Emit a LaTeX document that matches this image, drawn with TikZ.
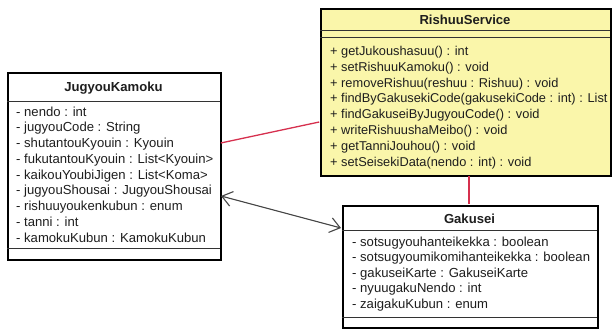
\documentclass[tikz,border=0pt]{standalone}
\usepackage{fontspec}
\setmainfont{Liberation Sans}
\usetikzlibrary{arrows.meta}
\definecolor{umlyellow}{RGB}{250,246,170}
\definecolor{assocred}{RGB}{214,48,78}
\definecolor{arrowgray}{RGB}{70,70,70}
\definecolor{txt}{RGB}{30,30,30}
\begin{document}
\begin{tikzpicture}[x=1pt,y=-1pt,
  classbox/.style={draw=black, line width=1.6pt, inner sep=0pt, anchor=north west},
  sepline/.style={draw=black!80, line width=1pt},
  titletext/.style={font=\fontsize{13.1}{15.8}\selectfont\bfseries, text=txt, inner sep=0pt},
  membertext/.style={font=\fontsize{13.1}{15.8}\selectfont, text=txt, inner sep=0pt, align=left, anchor=west},
  assoc/.style={draw=assocred, line width=1.3pt},
  navarrow/.style={draw=arrowgray, line width=1.1pt, {Straight Barb[length=10pt,width=15pt]}-{Straight Barb[length=10pt,width=15pt]}}]
\useasboundingbox (0,0) rectangle (612,329);

% JugyouKamoku
\node[classbox, fill=white, minimum width=213pt, minimum height=187pt] (jk) at (7,72) {};
\node[titletext] (jkt) at (113.5,88) {JugyouKamoku};
\draw[sepline] (7,101) -- (220,101);
\draw[sepline] (7,248) -- (220,248);
\node[membertext, font=\fontsize{13.1}{15.75}\selectfont] (jka) at (16,174.5) {- nendo : int\\- jugyouCode : String\\- shutantouKyouin : Kyouin\\- fukutantouKyouin : List<Kyouin>\\- kaikouYoubiJigen : List<Koma>\\- jugyouShousai : JugyouShousai\\- rishuuyoukenkubun : enum\\- tanni : int\\- kamokuKubun : KamokuKubun};

% RishuuService
\node[classbox, fill=umlyellow, minimum width=290pt, minimum height=167pt] (rs) at (320,8) {};
\node[titletext] (rst) at (465,20) {RishuuService};
\draw[sepline] (320,31) -- (610,31);
\draw[sepline] (320,38) -- (610,38);
\node[membertext, font=\fontsize{12.8}{15.86}\selectfont] (rsm) at (330,107.5) {+ getJukoushasuu() : int\\+ setRishuuKamoku() : void\\+ removeRishuu(reshuu : Rishuu) : void\\+ findByGakusekiCode(gakusekiCode : int) : List\\+ findGakuseiByJugyouCode() : void\\+ writeRishuushaMeibo() : void\\+ getTanniJouhou() : void\\+ setSeisekiData(nendo : int) : void};

% Gakusei
\node[classbox, fill=white, minimum width=255pt, minimum height=122pt] (gk) at (342,205) {};
\node[titletext] (gkt) at (469.5,219) {Gakusei};
\draw[sepline] (342,230) -- (597,230);
\draw[sepline] (342,317) -- (597,317);
\node[membertext, font=\fontsize{13.1}{15.5}\selectfont] (gka) at (352,274) {- sotsugyouhanteikekka : boolean\\- sotsugyoumikomihanteikekka : boolean\\- gakuseiKarte : GakuseiKarte\\- nyuugakuNendo : int\\- zaigakuKubun : enum};

% connectors
\coordinate (jkr) at (220.8,143);
\coordinate (rsl) at (319.2,122);
\coordinate (rsb) at (469,175.8);
\coordinate (gkt2) at (469,204.2);
\coordinate (jka2) at (221,196);
\coordinate (gkl) at (341,228);
\draw[assoc] (jkr) -- (rsl);
\draw[assoc] (rsb) -- (gkt2);
\draw[navarrow] (jka2) -- (gkl);
\end{tikzpicture}
\end{document}
